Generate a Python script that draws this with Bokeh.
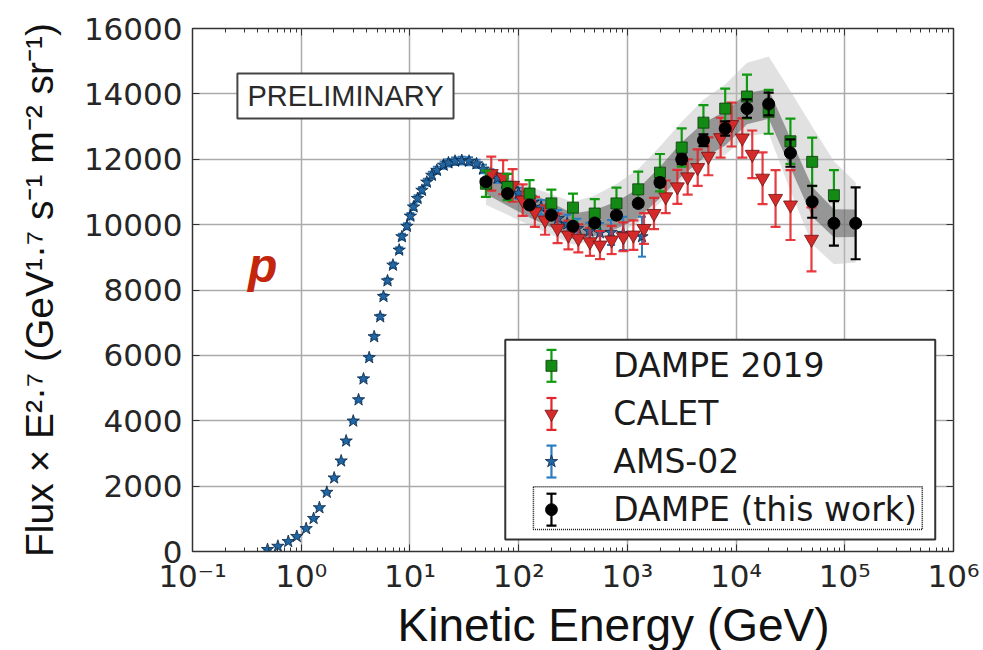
from bokeh.plotting import figure
from bokeh.models import (FixedTicker, CustomJSTickFormatter, Label, Range1d, LinearScale,
                          LinearAxis, LogAxis, Title)
from bokeh.embed import file_html
from bokeh.resources import INLINE

# ---------------- data: proton flux x E^2.7 ----------------
ams_energy = [0.49, 0.61, 0.76, 0.91, 1.11, 1.30, 1.47, 1.72, 2.01, 2.33, 2.59, 3.01, 3.37, 3.74,
              4.22, 4.69, 5.33, 5.71, 6.22, 6.98, 7.97, 8.44, 9.38, 10.1, 10.8, 11.75, 12.9, 14.3,
              15.9, 17.7, 20.4, 22.6, 26, 30, 35, 41, 47, 55, 64, 75, 87, 100, 117, 135, 161, 191,
              231, 280, 347, 447, 560, 708, 916, 1363]
ams_flux = [60, 160, 305, 460, 700, 1010, 1340, 1810, 2250, 2770, 3380, 3990, 4640, 5280,
            5930, 6570, 7180, 7800, 8280, 8760, 9220, 9630, 9950, 10260, 10540, 10800, 11050, 11300,
            11510, 11660, 11820, 11890, 11940, 11960, 11940, 11860, 11700, 11560, 11420, 11270, 11100,
            10960, 10810, 10680, 10530, 10370, 10190, 10020, 9880, 9800, 9750, 9760, 9730, 9630]
ams_err = [5, 6, 8, 10, 12, 15, 18, 22, 26, 30, 35, 40, 45, 50,
           55, 60, 65, 70, 75, 80, 85, 88, 90, 92, 95, 97, 100, 102,
           105, 107, 110, 112, 115, 118, 120, 125, 130, 135, 140, 150, 160,
           170, 185, 200, 220, 240, 260, 280, 300, 260, 300, 380, 510, 610]

calet_energy = [56, 72, 88, 109, 141, 175, 228, 287, 354, 453, 560, 717, 919, 1136, 1422, 1758,
                2254, 2884, 3587, 4437, 5562, 7211, 9098, 11410, 14090, 17530, 23080, 31670, 49400]
calet_flux = [11560, 11450, 11200, 10750, 10390, 10140, 9885, 9680, 9580, 9475, 9375, 9530, 9630,
              9680, 9880, 10340, 10850, 11155, 11460, 11745, 12090, 12660, 13060, 12650, 12150,
              11420, 10800, 10600, 9550]
calet_err = [520, 520, 500, 480, 460, 450, 450, 440, 430, 430, 430, 430, 440, 450, 470, 480,
             500, 520, 540, 560, 580, 610, 670, 600, 730, 790, 870, 1070, 980]

dampe19_energy = [50, 79, 126, 200, 316, 501, 794, 1259, 1995, 3162, 5012, 7943, 12589, 19953,
                  31623, 50119, 79433]
dampe19_flux = [11250, 11150, 10950, 10650, 10520, 10340, 10650, 11080, 11590, 12360, 13120,
                13550, 13920, 13450, 12550, 11920, 10900]
dampe19_err = [400, 400, 410, 420, 430, 440, 480, 540, 570, 585, 535, 610, 670, 670, 690, 740, 770]

dampe_energy = [50, 79, 126, 200, 316, 501, 794, 1259, 1995, 3162, 5012, 7943, 12589, 19953,
                31623, 50119, 79433, 125893]
dampe_flux = [11310, 10950, 10600, 10290, 9950, 10050, 10290, 10650, 11290, 12000, 12580, 12940,
              13550, 13690, 12190, 10700, 10040, 10040]
dampe_err = [60, 60, 60, 60, 70, 80, 90, 100, 120, 150, 180, 220, 280, 350, 420, 490, 680, 1100]
# systematic band (inner) and band including hadronic-model uncertainty (outer)
dampe_sys = [370, 370, 380, 380, 390, 400, 420, 450, 480, 520, 540, 520, 480, 450, 450, 460, 430, 420]
dampe_had_lo = [700, 650, 620, 600, 560, 560, 580, 600, 620, 650, 720, 800, 850, 900, 1150, 1300, 1250, 1200]
dampe_had_hi = [500, 520, 560, 640, 740, 840, 950, 1050, 1100, 1150, 1250, 1350, 1400, 1450, 1900, 2300, 1900, 1250]

x_tick_values = [0.1, 1, 10, 100, 1000, 10000, 100000, 1000000]
y_tick_values = [0, 2000, 4000, 6000, 8000, 10000, 12000, 14000, 16000]

legend_labels = ["DAMPE 2019", "CALET", "AMS-02", "DAMPE (this work)"]

# ---------------- styling ----------------
GREEN, GREEN_BAR = "#138a13", "#119a11"
RED, RED_BAR = "#d42a2a", "#e3262b"
BLUE, BLUE_BAR = "#2166a5", "#2b7cc0"
BLACK = "#000000"
TICK_FONT = "DejaVu Sans"
LABEL_FONT = "Liberation Sans"

p = figure(width=983, height=650, x_axis_type="log", x_range=(0.1, 1e6), y_range=(0, 16000),
           output_backend="svg", toolbar_location=None,
           min_border_left=192, min_border_right=30, min_border_top=28, min_border_bottom=98)
p.background_fill_color = "white"
p.border_fill_color = "white"
p.outline_line_color = "#333333"
p.outline_line_width = 1.5

# frame-fraction coordinates for the boxes and legend
p.extra_x_ranges = {"fx": Range1d(0, 1)}
p.extra_y_ranges = {"fy": Range1d(0, 1)}
p.extra_x_scales = {"fx": LinearScale()}
p.extra_y_scales = {"fy": LinearScale()}

minor = [m * d for d in x_tick_values[:-1] for m in range(2, 10)]
sup_js = """
const e = Math.round(Math.log10(tick));
const sup = {"-": "\u207b", "0": "\u2070", "1": "\u00b9", "2": "\u00b2", "3": "\u00b3",
             "4": "\u2074", "5": "\u2075", "6": "\u2076", "7": "\u2077", "8": "\u2078", "9": "\u2079"};
return "10" + String(e).split("").map(c => sup[c]).join("");
"""

xa = p.xaxis[0]
xa.ticker = FixedTicker(ticks=x_tick_values, minor_ticks=minor)
xa.formatter = CustomJSTickFormatter(code=sup_js)
ya = p.yaxis[0]
ya.ticker = FixedTicker(ticks=y_tick_values)

for ax in (xa, ya):
    ax.major_label_text_font = TICK_FONT
    ax.major_label_text_font_size = "31px"
    ax.major_label_text_color = "#262626"
    ax.major_tick_in = 7
    ax.major_tick_out = 0
    ax.minor_tick_in = 4
    ax.minor_tick_out = 0
    ax.axis_line_color = "#333333"
    ax.major_tick_line_color = "#333333"
    ax.minor_tick_line_color = "#333333"
ya.minor_tick_line_color = None
xa.major_label_standoff = 6
ya.major_label_standoff = 10

ya.axis_label = "Flux \u00d7 E\u00b2\u00b7\u2077 (GeV\u00b9\u00b7\u2077 s\u207b\u00b9 m\u207b\u00b2 sr\u207b\u00b9)"
ya.axis_label_text_font = LABEL_FONT
ya.axis_label_text_font_size = "39px"
ya.axis_label_text_font_style = "normal"
ya.axis_label_text_color = "#111111"
ya.axis_label_standoff = 20

# mirrored ticks on the top and right edges
blank = CustomJSTickFormatter(code="return ''")
top_axis = LogAxis(ticker=FixedTicker(ticks=x_tick_values, minor_ticks=minor), formatter=blank,
                   major_tick_in=7, major_tick_out=0, minor_tick_in=4, minor_tick_out=0,
                   major_label_text_font_size="1px", major_label_standoff=0,
                   axis_line_color=None, major_tick_line_color="#333333",
                   minor_tick_line_color="#333333")
p.add_layout(top_axis, "above")
right_axis = LinearAxis(ticker=FixedTicker(ticks=y_tick_values), formatter=blank,
                        major_tick_in=7, major_tick_out=0, minor_tick_line_color=None,
                        major_label_text_font_size="1px", major_label_standoff=0,
                        axis_line_color=None, major_tick_line_color="#333333")
p.add_layout(right_axis, "right")

xlabel = Title(text="Kinetic Energy (GeV)", align="left", offset=205, standoff=0,
               text_font=LABEL_FONT, text_font_size="46px", text_font_style="normal",
               text_color="#111111")
p.add_layout(xlabel, "below")

p.xgrid.grid_line_color = "#ababab"
p.ygrid.grid_line_color = "#ababab"
p.xgrid.grid_line_width = 1.5
p.ygrid.grid_line_width = 1.5
p.xgrid.ticker = FixedTicker(ticks=x_tick_values)
p.ygrid.ticker = FixedTicker(ticks=y_tick_values)

# ---------------- uncertainty bands ----------------
light_lo = [f - d for f, d in zip(dampe_flux, dampe_had_lo)]
light_hi = [f + d for f, d in zip(dampe_flux, dampe_had_hi)]
dark_lo = [f - d for f, d in zip(dampe_flux, dampe_sys)]
dark_hi = [f + d for f, d in zip(dampe_flux, dampe_sys)]
p.varea(x=dampe_energy, y1=light_lo, y2=light_hi, fill_color="#bdbdbd", fill_alpha=0.45)
p.varea(x=dampe_energy, y1=dark_lo, y2=dark_hi, fill_color="#5a5a5a", fill_alpha=0.55)


def errorbars(xs, ys, errs, color, width=2.2, cap=10, alpha=1.0):
    lo = [y - e for y, e in zip(ys, errs)]
    hi = [y + e for y, e in zip(ys, errs)]
    p.segment(x0=xs, y0=lo, x1=xs, y1=hi, line_color=color, line_width=width, line_alpha=alpha)
    p.scatter(x=xs, y=lo, marker="dash", size=cap, line_color=color, line_width=width, line_alpha=alpha)
    p.scatter(x=xs, y=hi, marker="dash", size=cap, line_color=color, line_width=width, line_alpha=alpha)


# AMS-02
errorbars(ams_energy, ams_flux, ams_err, BLUE_BAR, width=2.0, cap=8)
p.scatter(x=ams_energy, y=ams_flux, marker="star", size=13, fill_color=BLUE,
          line_color="#0b2540", line_width=0.8)

# CALET
errorbars(calet_energy, calet_flux, calet_err, RED_BAR, alpha=0.9)
p.scatter(x=calet_energy, y=calet_flux, marker="inverted_triangle", size=14, fill_color=RED,
          line_color="#6e1212", line_width=0.8)

# DAMPE 2019
errorbars(dampe19_energy, dampe19_flux, dampe19_err, GREEN_BAR)
p.scatter(x=dampe19_energy, y=dampe19_flux, marker="square", size=11, fill_color=GREEN,
          line_color="#0c3a0c", line_width=0.8)

# DAMPE (this work)
errorbars(dampe_energy, dampe_flux, dampe_err, BLACK)
p.scatter(x=dampe_energy, y=dampe_flux, marker="circle", size=12, fill_color=BLACK,
          line_color=BLACK)

# ---------------- annotations ----------------
p.quad(left=[0.059], right=[0.343], bottom=[0.828], top=[0.914], fill_color="white",
       line_color="#444444", line_width=2, x_range_name="fx", y_range_name="fy")
p.add_layout(Label(x=0.201, y=0.871, x_range_name="fx", y_range_name="fy", text="PRELIMINARY",
                   text_align="center", text_baseline="middle", text_font=LABEL_FONT,
                   text_font_size="29px", text_color="#2a2a2a"))
p.add_layout(Label(x=0.073, y=0.547, x_range_name="fx", y_range_name="fy", text="p",
                   text_align="left", text_baseline="alphabetic", text_font=LABEL_FONT,
                   text_font_size="48px", text_font_style="bold italic", text_color="#c3260c"))

# ---------------- legend ----------------
p.quad(left=[0.411], right=[0.976], bottom=[0.023], top=[0.405], fill_color="white",
       line_color="#333333", line_width=2, x_range_name="fx", y_range_name="fy")
p.quad(left=[0.448], right=[0.959], bottom=[0.042], top=[0.124], fill_color=None,
       line_color="#111111", line_width=1.5, line_dash="1 1", x_range_name="fx", y_range_name="fy")

leg_x = 0.4717
leg_rows = [0.355, 0.263, 0.172, 0.080]
leg_half = 0.0305
leg_style = [
    (GREEN_BAR, "square", GREEN, "#0c3a0c", 11),
    (RED_BAR, "inverted_triangle", RED, "#6e1212", 13),
    (BLUE_BAR, "star", BLUE, "#0b2540", 13),
    (BLACK, "circle", BLACK, BLACK, 12),
]
for row, (bar, marker, fill, edge, size), text in zip(leg_rows, leg_style, legend_labels):
    p.segment(x0=[leg_x], y0=[row - leg_half], x1=[leg_x], y1=[row + leg_half], line_color=bar,
              line_width=2.2, x_range_name="fx", y_range_name="fy")
    p.scatter(x=[leg_x, leg_x], y=[row - leg_half, row + leg_half], marker="dash", size=10,
              line_color=bar, line_width=2.2, x_range_name="fx", y_range_name="fy")
    p.scatter(x=[leg_x], y=[row], marker=marker, size=size, fill_color=fill, line_color=edge,
              line_width=0.8, x_range_name="fx", y_range_name="fy")
    p.add_layout(Label(x=0.553, y=row, x_range_name="fx", y_range_name="fy", text=text,
                       text_align="left", text_baseline="middle", text_font=TICK_FONT,
                       text_font_size="33px", text_color="#1a1a1a"))

open("out.html", "w").write(file_html(p, INLINE))
